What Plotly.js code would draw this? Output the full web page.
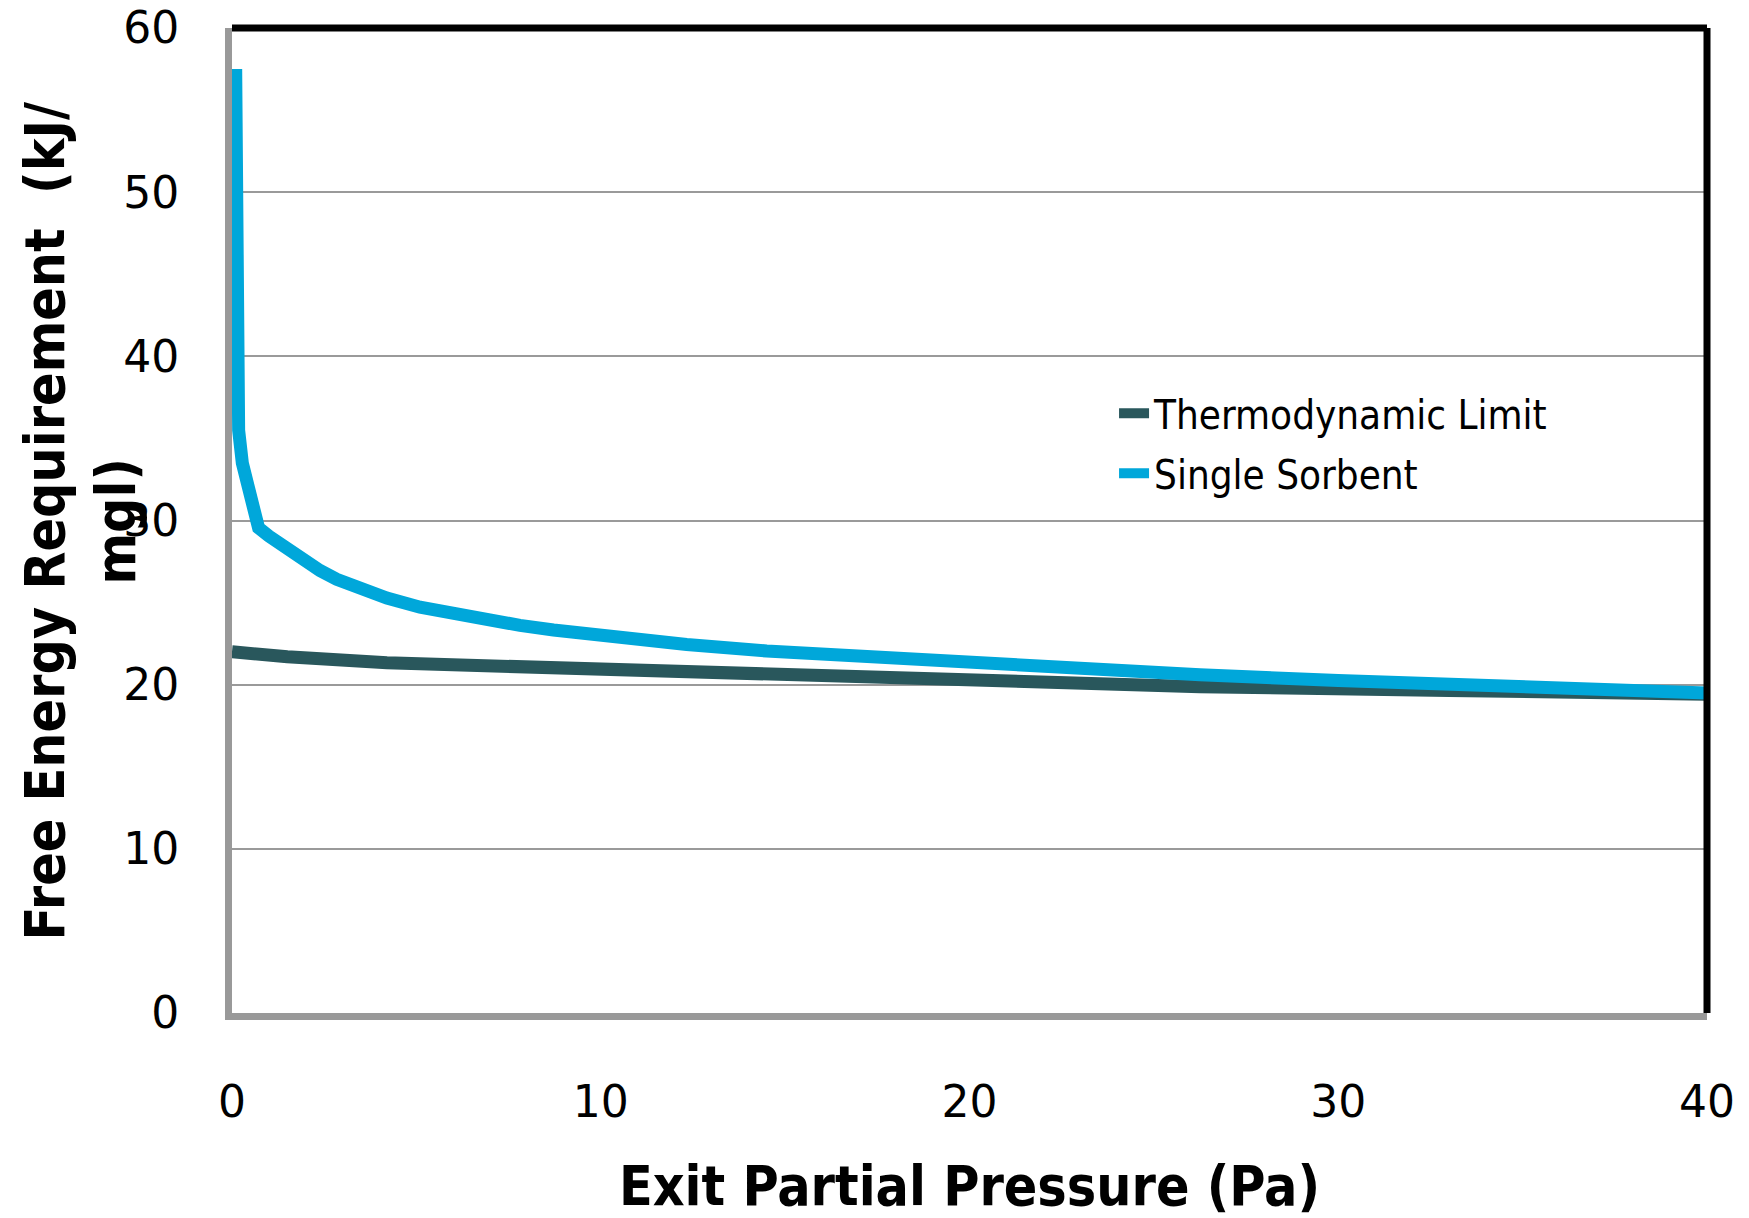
<!DOCTYPE html>
<html>
<head>
<meta charset="utf-8">
<script src="https://cdn.plot.ly/plotly-3.0.1.min.js"></script>
<style>html,body{margin:0;padding:0;background:#fff;}#chart{width:1749px;height:1218px;}</style>
</head>
<body>
<div id="chart"></div>
<script>
// Exit partial pressure (Pa) and free energy requirement (kJ/mol)
const thermoX = [0, 0.5, 1.5, 4.2, 8.7, 13.2, 19.5, 26.25, 33, 40];
const thermoY = [22.0, 21.88, 21.7, 21.33, 21.0, 20.68, 20.31, 19.88, 19.65, 19.42];

const sorbentX = [0.1, 0.1, 0.12, 0.18, 0.28, 0.43, 0.58, 0.72, 1.0, 1.48, 1.93, 2.39, 2.84, 3.29, 4.2, 5.1, 6.0, 6.91, 7.81, 8.72, 10.52, 12.33, 14.5, 17, 19.5, 23, 26.25, 30, 35, 40];
const sorbentY = [57.5, 45, 38, 35.5, 33.5, 31.85, 30.4, 29.55, 29.05, 28.25, 27.55, 26.95, 26.42, 25.98, 25.28, 24.72, 24.3, 23.93, 23.61, 23.33, 22.84, 22.45, 22.05, 21.7, 21.35, 20.95, 20.6, 20.25, 19.85, 19.5];

const seriesNames = ['Thermodynamic Limit', 'Single Sorbent'];
const xTickVals = [0, 10, 20, 30, 40];
const yTickVals = [0, 10, 20, 30, 40, 50, 60];
const xTitle = 'Exit Partial Pressure (Pa)';
const yTitle = 'Free Energy Requirement\u00A0\u00A0(kJ/<br>mgl)';

const tickFont = {family: 'DejaVu Sans, Verdana, sans-serif', size: 44, color: '#000'};
const titleFont = {family: 'DejaVu Sans Condensed, DejaVu Sans, sans-serif', size: 55, color: '#000', weight: 'bold'};

const traces = [
  {x: thermoX, y: thermoY, name: seriesNames[0], type: 'scatter', mode: 'lines',
   line: {color: '#29575C', width: 13}, legendgroup: 'a'},
  {x: sorbentX, y: sorbentY, name: seriesNames[1], type: 'scatter', mode: 'lines',
   line: {color: '#00A7DA', width: 13}, legendgroup: 'b'}
];

const layout = {
  width: 1749, height: 1218,
  margin: {l: 232, r: 42, t: 28, b: 205},
  paper_bgcolor: '#fff', plot_bgcolor: '#fff',
  showlegend: true,
  legend: {x: 0.598, y: 0.642, xanchor: 'left', yanchor: 'top',
           font: {family: 'DejaVu Sans Condensed, DejaVu Sans, sans-serif', size: 40, color: '#000'},
           bgcolor: 'rgba(0,0,0,0)', tracegroupgap: 5},
  xaxis: {range: [0, 40], tickvals: xTickVals, showgrid: false, zeroline: false,
          showline: true, linecolor: '#999999', linewidth: 7, ticks: '',
          tickfont: tickFont, ticklabelstandoff: 44,
          title: {text: xTitle, font: titleFont, standoff: 44}},
  yaxis: {range: [0, 60], tickvals: yTickVals, showgrid: true, gridcolor: '#9a9a9a', gridwidth: 2,
          zeroline: false, showline: true, linecolor: '#999999', linewidth: 7, ticks: '',
          tickfont: tickFont, ticklabelstandoff: 37,
          title: {text: ''}},
  annotations: [
    {text: yTitle, xref: 'paper', yref: 'paper', x: -0.103, y: 0.5, xanchor: 'center', yanchor: 'middle',
     textangle: -90, showarrow: false, align: 'center', font: titleFont}
  ],
  shapes: [
    {type: 'line', xref: 'paper', yref: 'paper', x0: 0, x1: 1, y0: 1, y1: 1, line: {color: '#000', width: 7}},
    {type: 'line', xref: 'paper', yref: 'paper', x0: 1, x1: 1, y0: 0, y1: 1, line: {color: '#000', width: 7}}
  ]
};

Plotly.newPlot('chart', traces, layout, {displayModeBar: false, staticPlot: true});
</script>
</body>
</html>
